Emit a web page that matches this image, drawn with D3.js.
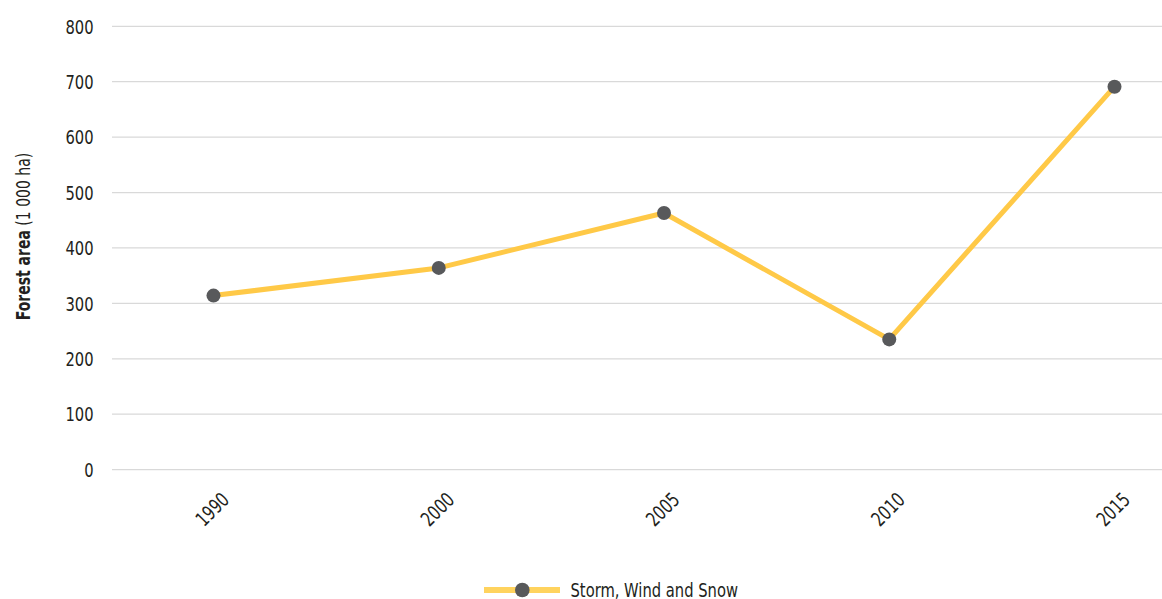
<!DOCTYPE html>
<html>
<head>
<meta charset="utf-8">
<script src="https://cdn.jsdelivr.net/npm/d3@7"></script>
<style>
  html, body { margin: 0; padding: 0; background: #fff; }
  svg { display: block; }
  text { font-family: "DejaVu Sans Condensed", "DejaVu Sans", sans-serif; fill: #231f20; }
</style>
</head>
<body>
<svg id="chart" width="1162" height="599"></svg>
<script>
// Forest area disturbed by storm, wind and snow (1 000 ha)
const years = ["1990", "2000", "2005", "2010", "2015"];
const stormWindSnow = [314, 364, 463, 235, 691];
const yTicks = [0, 100, 200, 300, 400, 500, 600, 700, 800];
const seriesName = "Storm, Wind and Snow";

const svg = d3.select("#chart");

const plotLeft = 112, plotRight = 1162, plotTop = 26.3, plotBottom = 469.6;
// horizontal squeeze giving the narrow lettering
const squeeze = 0.82;

const x = d3.scalePoint().domain(years).range([213.5, 1114.5]);
const y = d3.scaleLinear().domain([0, 800]).range([plotBottom, plotTop]);

// horizontal gridlines
svg.append("g")
  .selectAll("line")
  .data(yTicks)
  .join("line")
  .attr("x1", plotLeft).attr("x2", plotRight)
  .attr("y1", d => y(d)).attr("y2", d => y(d))
  .attr("stroke", "#d9d9d9")
  .attr("stroke-width", 1.3);

// y axis labels
svg.append("g")
  .selectAll("text")
  .data(yTicks)
  .join("text")
  .attr("transform", d => `translate(93.5,${y(d)}) scale(${squeeze},1)`)
  .attr("text-anchor", "end")
  .attr("dy", "0.36em")
  .attr("font-size", 20)
  .text(d => d);

// x axis labels, rotated
svg.append("g")
  .selectAll("text")
  .data(years)
  .join("text")
  .attr("transform", d => `translate(${x(d) + 17},${501}) rotate(-45) scale(${squeeze},1)`)
  .attr("text-anchor", "end")
  .attr("font-size", 20)
  .text(d => d);

// y axis title
const title = svg.append("text")
  .attr("transform", `translate(30,236.5) rotate(-90) scale(${squeeze},1)`)
  .attr("text-anchor", "middle")
  .attr("font-size", 19);
title.append("tspan").attr("font-weight", "bold").text("Forest area");
title.append("tspan").text(" (1 000 ha)");

// series line
const line = d3.line()
  .x((d, i) => x(years[i]))
  .y(d => y(d));

svg.append("path")
  .datum(stormWindSnow)
  .attr("d", line)
  .attr("fill", "none")
  .attr("stroke", "#ffc947")
  .attr("stroke-width", 5)
  .attr("stroke-linejoin", "round");

svg.append("g")
  .selectAll("circle")
  .data(stormWindSnow)
  .join("circle")
  .attr("cx", (d, i) => x(years[i]))
  .attr("cy", d => y(d))
  .attr("r", 7)
  .attr("fill", "#58595b");

// legend
const lg = svg.append("g").attr("transform", "translate(484,590)");
lg.append("line")
  .attr("x1", 0).attr("x2", 76)
  .attr("y1", 0).attr("y2", 0)
  .attr("stroke", "#ffd35e")
  .attr("stroke-width", 6);
lg.append("circle").attr("cx", 38.3).attr("cy", 0).attr("r", 7.3).attr("fill", "#58595b");
lg.append("text")
  .attr("transform", `translate(86.5,0) scale(${squeeze},1)`)
  .attr("dy", "0.36em")
  .attr("font-size", 20)
  .text(seriesName);
</script>
</body>
</html>
